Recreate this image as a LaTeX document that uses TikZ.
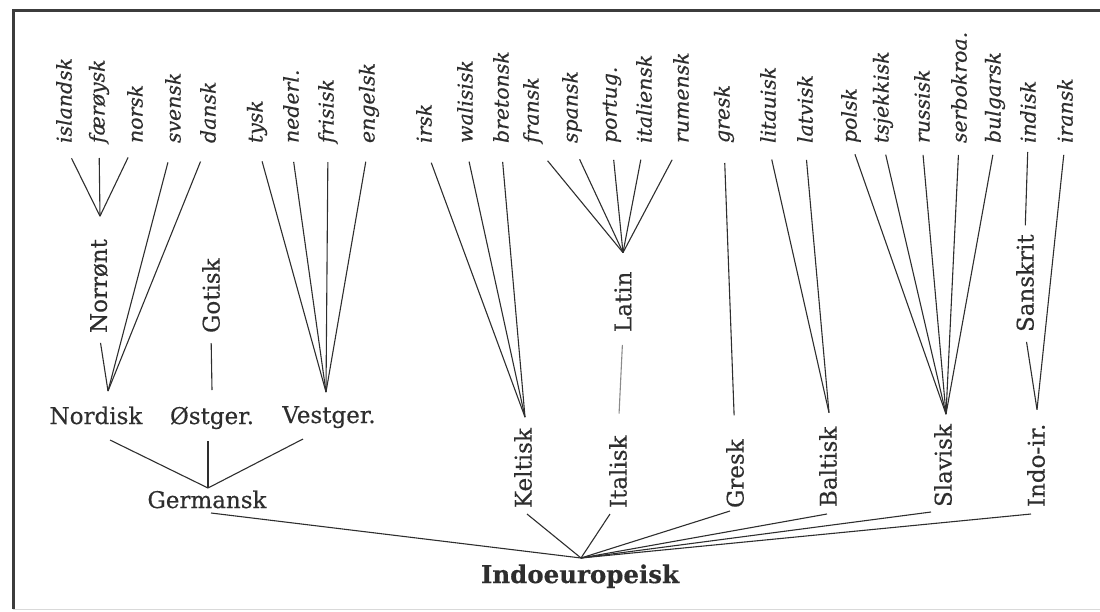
\documentclass[tikz,border=0pt]{standalone}
\usepackage{fontspec}
\setmainfont{DejaVu Serif}[FakeBold=0.4]
\definecolor{ink}{HTML}{2E2E2E}
\definecolor{frame}{HTML}{3C3C3C}
\definecolor{paleline}{HTML}{8A8A8A}
\begin{document}
\begin{tikzpicture}[x=1pt,y=-1pt,
  leaf/.style={rotate=90, anchor=west, inner sep=0pt, outer sep=0pt, text=ink,
    font=\itshape\fontsize{20.5}{20.5}\selectfont},
  mid/.style={rotate=90, anchor=west, inner sep=0pt, outer sep=0pt, text=ink,
    font=\fontsize{23}{23}\selectfont},
  hor/.style={anchor=base, inner sep=0pt, outer sep=0pt, text=ink,
    font=\fontsize{23}{23}\selectfont},
  root/.style={anchor=base, inner sep=0pt, outer sep=0pt, text=ink,
    font=\bfseries\fontsize{24.5}{24.5}\selectfont},
  link/.style={draw=ink, line width=1.1pt},
  palelink/.style={draw=paleline, line width=1.1pt}]
\useasboundingbox (0,0) rectangle (1100,611);
% frame
\draw[frame, line width=3pt] (13,609) -- (13,10) -- (1100,10);
\draw[black!15, line width=0.8pt] (13,609.5) -- (1100,609.5);

% leaves
\node[leaf] (islandsk) at (64,143) {islandsk};
\node[leaf] (faeroysk) at (99,143) {færøysk};
\node[leaf] (norsk) at (135,143) {norsk};
\node[leaf] (svensk) at (173,143) {svensk};
\node[leaf] (dansk) at (208,143) {dansk};
\node[leaf] (tysk) at (257,143) {tysk};
\node[leaf] (nederl) at (291,143) {nederl.};
\node[leaf] (frisisk) at (328,143) {frisisk};
\node[leaf] (engelsk) at (369,143) {engelsk};
\node[leaf] (irsk) at (424,143) {irsk};
\node[leaf] (walisisk) at (465,143) {walisisk};
\node[leaf] (bretonsk) at (501,143) {bretonsk};
\node[leaf] (fransk) at (533,143) {fransk};
\node[leaf] (spansk) at (572,143) {spansk};
\node[leaf] (portug) at (612,143) {portug.};
\node[leaf] (italiensk) at (644,143) {italiensk};
\node[leaf] (rumensk) at (681,143) {rumensk};
\node[leaf] (gresk) at (724,143) {gresk};
\node[leaf] (litauisk) at (768,143) {litauisk};
\node[leaf] (latvisk) at (805,143) {latvisk};
\node[leaf] (polsk) at (851,143) {polsk};
\node[leaf] (tsjekkisk) at (883,143) {tsjekkisk};
\node[leaf] (russisk) at (922,143) {russisk};
\node[leaf] (serbokroa) at (959,143) {serbokroa.};
\node[leaf] (bulgarsk) at (995,143) {bulgarsk};
\node[leaf] (indisk) at (1028,143) {indisk};
\node[leaf] (iransk) at (1065,143) {iransk};

% intermediate (rotated)
\node[mid] (norront) at (99,333) {Norrønt};
\node[mid] (gotisk) at (211,333) {Gotisk};
\node[mid] (latin) at (623,332) {Latin};
\node[mid] (sanskrit) at (1025,332) {Sanskrit};
\node[mid] (keltisk) at (523,508) {Keltisk};
\node[mid] (italisk) at (618,508) {Italisk};
\node[mid] (greskb) at (735,508) {Gresk};
\node[mid] (baltisk) at (828,507) {Baltisk};
\node[mid] (slavisk) at (943,507) {Slavisk};
\node[mid] (indoir) at (1036,507) {Indo-ir.};

% horizontal
\node[hor] (nordisk) at (96,424) {Nordisk};
\node[hor] (ostger) at (212,424) {Østger.};
\node[hor] (vestger) at (329,423) {Vestger.};
\node[hor] (germansk) at (207,508) {Germansk};
\node[root] (ie) at (580,583) {Indoeuropeisk};

% junctions
\coordinate (jnorr) at ([xshift=1pt,yshift=23pt]norront.east);
\coordinate (jnord) at (108,391);
\coordinate (jvest) at (326,392);
\coordinate (jgerm) at (208,488);
\coordinate (jkelt) at ([xshift=2pt,yshift=11pt]keltisk.east);
\coordinate (jlatin) at ([yshift=19pt]latin.east);
\coordinate (jbalt) at ([xshift=1pt,yshift=14pt]baltisk.east);
\coordinate (jslav) at ([xshift=3pt,yshift=10pt]slavisk.east);
\coordinate (jindo) at ([xshift=1pt,yshift=14pt]indoir.east);
\coordinate (jie) at (581,558);

% Nordic
\draw[link, shorten <=17pt] (islandsk.west) -- (jnorr);
\draw[link, shorten <=15pt] (faeroysk.west) -- (jnorr);
\draw[link, shorten <=16pt] (norsk.west) -- (jnorr);
\draw[link, shorten <=10pt] (norront.west) -- (jnord);
\draw[link, shorten <=20pt] (svensk.west) -- (jnord);
\draw[link, shorten <=20pt] (dansk.west) -- (jnord);
% East Germanic
\draw[link, shorten <=10pt] (gotisk.west) -- ([yshift=34pt]ostger.base);
% West Germanic
\draw[link, shorten <=19pt] (tysk.west) -- (jvest);
\draw[link, shorten <=19pt] (nederl.west) -- (jvest);
\draw[link, shorten <=19pt] (frisisk.west) -- (jvest);
\draw[link, shorten <=19pt] (engelsk.west) -- (jvest);
% Germanic
\draw[link] ([xshift=14pt,yshift=-16pt]nordisk.base) -- (jgerm);
\draw[link] ([xshift=-4pt,yshift=-17pt]ostger.base) -- (jgerm);
\draw[link] ([xshift=-26pt,yshift=-16pt]vestger.base) -- (jgerm);
\draw[link] ([xshift=4pt,yshift=-5pt]germansk.base) -- (jie);
% Celtic
\draw[link, shorten <=21pt] (irsk.west) -- (jkelt);
\draw[link, shorten <=19pt] (walisisk.west) -- (jkelt);
\draw[link, shorten <=19pt] (bretonsk.west) -- (jkelt);
\draw[link] ([xshift=4pt,yshift=-6pt]keltisk.west) -- (jie);
% Italic
\draw[link, shorten <=23pt] (fransk.west) -- (jlatin);
\draw[link, shorten <=18pt] (spansk.west) -- (jlatin);
\draw[link, shorten <=17pt] (portug.west) -- (jlatin);
\draw[link, shorten <=17pt] (italiensk.west) -- (jlatin);
\draw[link, shorten <=19pt] (rumensk.west) -- (jlatin);
\draw[palelink, shorten <=13pt, shorten >=22pt] (latin.west) -- (italisk.east);
\draw[link] ([xshift=-8pt,yshift=-6pt]italisk.west) -- (jie);
% Greek
\draw[link, shorten <=20pt, shorten >=24pt] (gresk.west) -- (greskb.east);
\draw[link] ([xshift=-5pt,yshift=-3pt]greskb.west) -- (jie);
% Baltic
\draw[link, shorten <=17pt] (litauisk.west) -- (jbalt);
\draw[link, shorten <=17pt] (latvisk.west) -- (jbalt);
\draw[link] ([xshift=-1pt,yshift=-7pt]baltisk.west) -- (jie);
% Slavic
\draw[link, shorten <=12pt] (polsk.west) -- (jslav);
\draw[link, shorten <=12pt] (tsjekkisk.west) -- (jslav);
\draw[link, shorten <=12pt] (russisk.west) -- (jslav);
\draw[link, shorten <=12pt] (serbokroa.west) -- (jslav);
\draw[link, shorten <=12pt] (bulgarsk.west) -- (jslav);
\draw[link] ([xshift=-12pt,yshift=-5pt]slavisk.west) -- (jie);
% Indo-Iranian
\draw[link, shorten <=9pt, shorten >=9pt] (indisk.west) -- (sanskrit.east);
\draw[link, shorten <=10pt] (sanskrit.west) -- (jindo);
\draw[link, shorten <=12pt] (iransk.west) -- (jindo);
\draw[link] ([xshift=-5pt,yshift=-7pt]indoir.west) -- (jie);
\end{tikzpicture}
\end{document}
